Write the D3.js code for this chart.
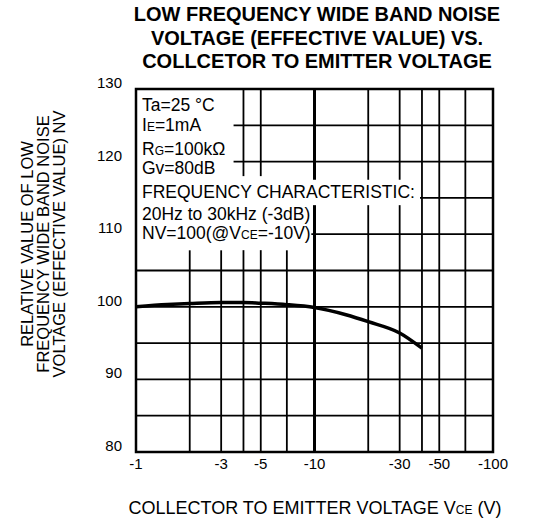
<!DOCTYPE html>
<html>
<head>
<meta charset="utf-8">
<script src="https://cdn.jsdelivr.net/npm/d3@7"></script>
<style>
  html, body { margin: 0; padding: 0; background: #fff; }
  svg { display: block; font-family: "Liberation Sans", Arial, sans-serif; }
</style>
</head>
<body>
<svg id="chart" width="540" height="519"></svg>
<script>
// curve: Vce magnitude (V) vs relative NV
const vce = [1, 1.5, 2, 3, 4, 5, 7, 10, 15, 20, 30, 40];
const nv = [100, 100.3, 100.45, 100.6, 100.6, 100.5, 100.3, 99.9, 98.9, 97.95, 96.4, 94.3];

const xGrid = [2, 3, 4, 5, 10, 20, 30, 40, 50, 70];
const xGridShort = [7];               // only drawn below the note box
const xTicks = [1, 3, 5, 10, 30, 50, 100];
const xTickLabels = ['-1', '-3', '-5', '-10', '-30', '-50', '-100'];
const yGrid = [85, 90, 95, 100, 105, 110, 115, 120, 125];
const yTicks = [80, 90, 100, 110, 120, 130];

const titleLines = ['LOW FREQUENCY WIDE BAND NOISE', 'VOLTAGE (EFFECTIVE VALUE) VS.', 'COLLCETOR TO EMITTER VOLTAGE'];
const yTitleLines = ['RELATIVE VALUE OF LOW', 'FREQUENCY WIDE BAND NOISE', 'VOLTAGE (EFFECTIVE VALUE) NV'];

// blank areas behind the condition notes, in data units
const noteMask = [
  { x0: 1, x1: 3.52, y0: 107.8, y1: 130 },
  { x0: 1, x1: 9.6, y0: 107.8, y1: 118 },
  { x0: 1, x1: 39, y0: 114, y1: 117.5 }
];

const margin = { left: 136, right: 47, top: 89, bottom: 67 };
const svg = d3.select('#chart');
const width = +svg.attr('width');
const height = +svg.attr('height');
const innerWidth = width - margin.left - margin.right;
const innerHeight = height - margin.top - margin.bottom;

const x = d3.scaleLog().domain([1, 100]).range([0, innerWidth]);
const y = d3.scaleLinear().domain([80, 130]).range([innerHeight, 0]);

const g = svg.append('g').attr('transform', `translate(${margin.left},${margin.top})`);

// grid
g.selectAll('.vgrid').data(xGrid).enter().append('line')
  .attr('x1', d => x(d)).attr('x2', d => x(d))
  .attr('y1', 0).attr('y2', innerHeight)
  .attr('stroke', '#000')
  .attr('stroke-width', d => d === 10 ? 3 : 1.8);

g.selectAll('.vshort').data(xGridShort).enter().append('line')
  .attr('x1', d => x(d)).attr('x2', d => x(d))
  .attr('y1', y(107.8)).attr('y2', innerHeight)
  .attr('stroke', '#000').attr('stroke-width', 1.8);

g.selectAll('.hgrid').data(yGrid).enter().append('line')
  .attr('x1', 0).attr('x2', innerWidth)
  .attr('y1', d => y(d)).attr('y2', d => y(d))
  .attr('stroke', '#000').attr('stroke-width', 1.8);

g.selectAll('.mask').data(noteMask).enter().append('rect')
  .attr('x', d => x(d.x0)).attr('width', d => x(d.x1) - x(d.x0))
  .attr('y', d => y(d.y1)).attr('height', d => y(d.y0) - y(d.y1))
  .attr('fill', '#fff');

// frame
g.append('rect')
  .attr('width', innerWidth).attr('height', innerHeight)
  .attr('fill', 'none').attr('stroke', '#000').attr('stroke-width', 2.5);

// curve
const line = d3.line()
  .x((d, i) => x(vce[i]))
  .y(d => y(d))
  .curve(d3.curveMonotoneX);

g.append('path')
  .datum(nv)
  .attr('d', line)
  .attr('fill', 'none')
  .attr('stroke', '#000')
  .attr('stroke-width', 3.5);

// tick labels
g.selectAll('.xlab').data(xTicks).enter().append('text')
  .attr('x', d => x(d))
  .attr('y', innerHeight + 17)
  .attr('text-anchor', 'middle')
  .style('font-size', '15px')
  .append('tspan')
  .text((d, i) => xTickLabels[i]);

g.selectAll('.ylab').data(yTicks).enter().append('text')
  .attr('x', -14)
  .attr('y', d => y(d) - 1)
  .attr('text-anchor', 'end')
  .style('font-size', '15px')
  .append('tspan')
  .text(d => d);

// notes inside plot
const notes = g.append('g').style('font-size', '17.5px').attr('transform', 'translate(6,0)');
const note = (yy, parts) => {
  const t = notes.append('text').attr('y', yy);
  parts.forEach(p => t.append('tspan').style('font-size', p[1] ? p[1] + 'px' : null).text(p[0]));
};
note(22, [['Ta=25 °C']]);
note(42, [['I'], ['E', 12], ['=1mA']]);
note(66, [['R'], ['G', 12], ['=100kΩ']]);
note(85, [['Gv=80dB']]);
note(109, [['FREQUENCY CHARACTERISTIC:']]);
note(131, [['20Hz to 30kHz (-3dB)']]);
note(150, [['NV=100(@V'], ['CE', 12], ['=-10V)']]);

// titles
svg.append('g')
  .selectAll('text').data(titleLines).enter().append('text')
  .attr('x', 317)
  .attr('y', (d, i) => 21 + i * 23.5)
  .attr('text-anchor', 'middle')
  .style('font-size', '20px')
  .style('font-weight', 'bold')
  .append('tspan')
  .text(d => d);

svg.append('g')
  .attr('transform', 'translate(0,244) rotate(-90)')
  .selectAll('text').data(yTitleLines).enter().append('text')
  .attr('x', 0)
  .attr('y', (d, i) => 33 + i * 16)
  .attr('text-anchor', 'middle')
  .style('font-size', '16.5px')
  .append('tspan')
  .text(d => d);

const xt = svg.append('text')
  .attr('x', 315)
  .attr('y', 514)
  .attr('text-anchor', 'middle')
  .style('font-size', '18px');
xt.append('tspan').text('COLLECTOR TO EMITTER VOLTAGE V');
xt.append('tspan').style('font-size', '12px').text('CE');
xt.append('tspan').text(' (V)');
</script>
</body>
</html>
